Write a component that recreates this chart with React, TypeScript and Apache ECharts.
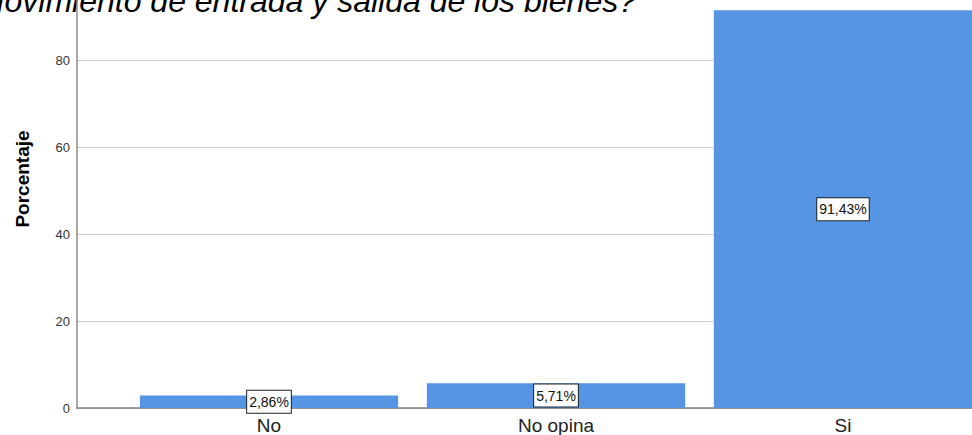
import React, { useEffect, useRef } from "react";
import * as echarts from "echarts";

const categories = ["No", "No opina", "Si"];
const percentages = [2.86, 5.71, 91.43];
const yTicks = { min: 0, max: 100, interval: 20 };
const titleText = "Movimiento de entrada y salida de los bienes?";
const yAxisTitle = "Porcentaje";

const FONT = "'Liberation Sans', Arial, sans-serif";
const BAR_COLOR = "#5595e3";

export default function App() {
  const ref = useRef<HTMLDivElement>(null);
  useEffect(() => {
    if (!ref.current) return;
    const chart = echarts.init(ref.current, undefined, { renderer: "svg" });
    chart.setOption({
      animation: false,
      backgroundColor: "#ffffff",
      textStyle: { fontFamily: FONT },
      grid: [
        { left: 77, right: 0, top: -27, bottom: 27, containLabel: false, outerBoundsMode: "none" },
        { left: 125.5, width: 861, top: -27, bottom: 27, containLabel: false, outerBoundsMode: "none" },
      ],
      xAxis: [
        {
          gridIndex: 0,
          type: "value",
          min: 0,
          max: 1,
          axisLine: { show: true, onZero: false, lineStyle: { color: "#7f7f7f", width: 1.5 } },
          axisTick: { show: false },
          axisLabel: { show: false },
          splitLine: { show: false },
        },
        {
          gridIndex: 1,
          type: "category",
          data: categories,
          axisLine: { show: false },
          axisTick: { show: false },
          axisLabel: {
            fontSize: 19,
            color: "#222222",
            fontFamily: FONT,
            margin: 8,
          },
        },
      ],
      yAxis: [
        {
          gridIndex: 0,
          type: "value",
          min: yTicks.min,
          max: yTicks.max,
          interval: yTicks.interval,
          axisLine: { show: true, lineStyle: { color: "#8c8c8c", width: 1.5 } },
          axisTick: { show: false },
          axisLabel: { fontSize: 13, color: "#333333", margin: 7, fontFamily: FONT, showMaxLabel: false },
          splitLine: { show: true, showMaxLine: false, lineStyle: { color: "#cfcfcf", width: 1 } },
        },
        {
          gridIndex: 1,
          type: "value",
          min: yTicks.min,
          max: yTicks.max,
          interval: yTicks.interval,
          show: false,
          splitLine: { show: false },
        },
      ],
      series: [
        {
          type: "bar",
          xAxisIndex: 1,
          yAxisIndex: 1,
          data: percentages,
          barCategoryGap: "10%",
          itemStyle: { color: BAR_COLOR },
          label: {
            show: true,
            position: "inside",
            formatter: (p: any) => p.value.toFixed(2).replace(".", ",") + "%",
            fontSize: 14,
            fontFamily: FONT,
            color: "#111111",
            backgroundColor: "#ffffff",
            borderColor: "#222222",
            borderWidth: 1,
            padding: [4, 2, 3, 2],
            lineHeight: 15,
          },
        },
      ],
      graphic: [
        {
          type: "text",
          x: 636,
          y: 1,
          z: 0,
          style: {
            text: titleText,
            align: "right",
            verticalAlign: "middle",
            fontSize: 32,
            fontStyle: "italic",
            fontFamily: FONT,
            fill: "#000000",
          },
        },
        {
          type: "text",
          x: 22,
          y: 179,
          rotation: Math.PI / 2,
          style: {
            text: yAxisTitle,
            align: "center",
            verticalAlign: "middle",
            fontSize: 19,
            fontWeight: "bold",
            fontFamily: FONT,
            fill: "#000000",
          },
        },
      ],
    });
    return () => chart.dispose();
  }, []);
  return (
    <div
      ref={ref}
      style={{ position: "fixed", left: 0, top: 0, width: 972, height: 435 }}
    />
  );
}
